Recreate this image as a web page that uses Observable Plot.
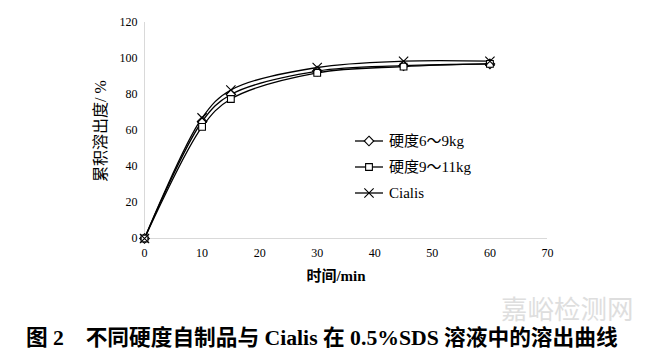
<!DOCTYPE html>
<html><head><meta charset="utf-8">
<script src="https://cdn.jsdelivr.net/npm/d3@7"></script>
<script src="https://cdn.jsdelivr.net/npm/@observablehq/plot@0.6"></script>
<style>
html,body{margin:0;padding:0;background:#fff;}
#chart{width:650px;height:290px;}
#caption{width:650px;height:66px;position:relative;font-family:"Liberation Serif","Noto Sans CJK SC",serif;}
#caption .t{position:absolute;left:26px;top:36px;font-size:21.7px;line-height:24px;font-weight:bold;color:#000;white-space:pre;}
#caption .w{position:absolute;left:501px;top:3px;font-size:26.5px;line-height:30px;color:#dedede;font-family:"Noto Sans CJK SC";}
</style></head>
<body>
<div id="chart"></div>
<div id="caption"><span class="w">嘉峪检测网</span><span class="t">图 2　不同硬度自制品与 Cialis 在 0.5%SDS 溶液中的溶出曲线</span></div>
<script>
const times = [0, 10, 15, 30, 45, 60];
const seriesNames = ["硬度6～9kg", "硬度9～11kg", "Cialis"];
const hard69 = [0, 65, 80, 93, 96, 97];
const hard911 = [0, 62, 77.5, 92, 95.5, 97];
const cialis = [0, 67, 82.5, 95, 98.5, 98.5];
const xTicks = [0, 10, 20, 30, 40, 50, 60, 70];
const yTicks = [0, 20, 40, 60, 80, 100, 120];
const symbols = {"硬度6～9kg": "diamond2", "硬度9～11kg": "square2", "Cialis": "times"};

const seriesValues = [hard69, hard911, cialis];
const data = [];
seriesNames.forEach((s, i) => times.forEach((t, j) => data.push({series: s, t, v: seriesValues[i][j]})));

const serif = '"Liberation Serif", "Noto Sans CJK SC", serif';
const plot = Plot.plot({
  width: 650, height: 290,
  marginLeft: 144, marginRight: 103, marginTop: 22, marginBottom: 52,
  style: {fontFamily: serif, fontSize: "12px", color: "#000", background: "#fff"},
  x: {domain: [0, 70], ticks: xTicks, tickSize: 0, tickPadding: 10, label: null},
  y: {domain: [0, 120], ticks: yTicks, tickSize: 0, tickPadding: 7, label: null},
  symbol: {domain: seriesNames, range: seriesNames.map(s => symbols[s])},
  marks: [
    Plot.ruleX([0], {stroke: "#d9d9d9", strokeWidth: 1}),
    Plot.ruleY([0], {stroke: "#d9d9d9", strokeWidth: 1}),
    Plot.line(data, {x: "t", y: "v", z: "series", stroke: "#000", strokeWidth: 1.3, curve: "catmull-rom"}),
    Plot.dot(data, {x: "t", y: "v", symbol: "series", stroke: "#000", fill: "#fff", strokeWidth: 1.1, r: 4.3}),
    Plot.axisX({ticks: xTicks, tickSize: 0, tickPadding: 10, label: null, fontSize: 12}),
    Plot.axisY({ticks: yTicks, tickSize: 0, tickPadding: 7, label: null, fontSize: 12}),
  ]
});
document.getElementById("chart").appendChild(plot);

const svg = d3.select(plot);
// axis titles
svg.append("text").attr("x", 336).attr("y", 281).attr("text-anchor", "middle")
  .attr("font-family", serif).attr("font-size", 15).attr("font-weight", "bold").text("时间/min");
svg.append("text").attr("transform", "translate(106,131) rotate(-90)").attr("text-anchor", "middle")
  .attr("font-family", serif).attr("font-size", 16).text("累积溶出度/ %");

// legend
const symTypes = {diamond2: d3.symbolDiamond2, square2: d3.symbolSquare2, times: d3.symbolTimes};
const lg = svg.append("g").attr("transform", "translate(355,141)");
seriesNames.forEach((s, i) => {
  const g = lg.append("g").attr("transform", `translate(0,${i * 26})`);
  g.append("line").attr("x1", 0).attr("x2", 28).attr("y1", 0).attr("y2", 0).attr("stroke", "#000").attr("stroke-width", 1.3);
  const sym = d3.symbol(symTypes[symbols[s]], 4.3 * 4.3 * Math.PI);
  g.append("path").attr("d", sym()).attr("transform", "translate(14,0)").attr("fill", "#fff").attr("stroke", "#000").attr("stroke-width", 1.1);
  g.append("text").attr("x", 34).attr("y", 5).attr("text-anchor", "start").attr("font-family", serif).attr("font-size", 15).text(s);
});
</script>
</body></html>
